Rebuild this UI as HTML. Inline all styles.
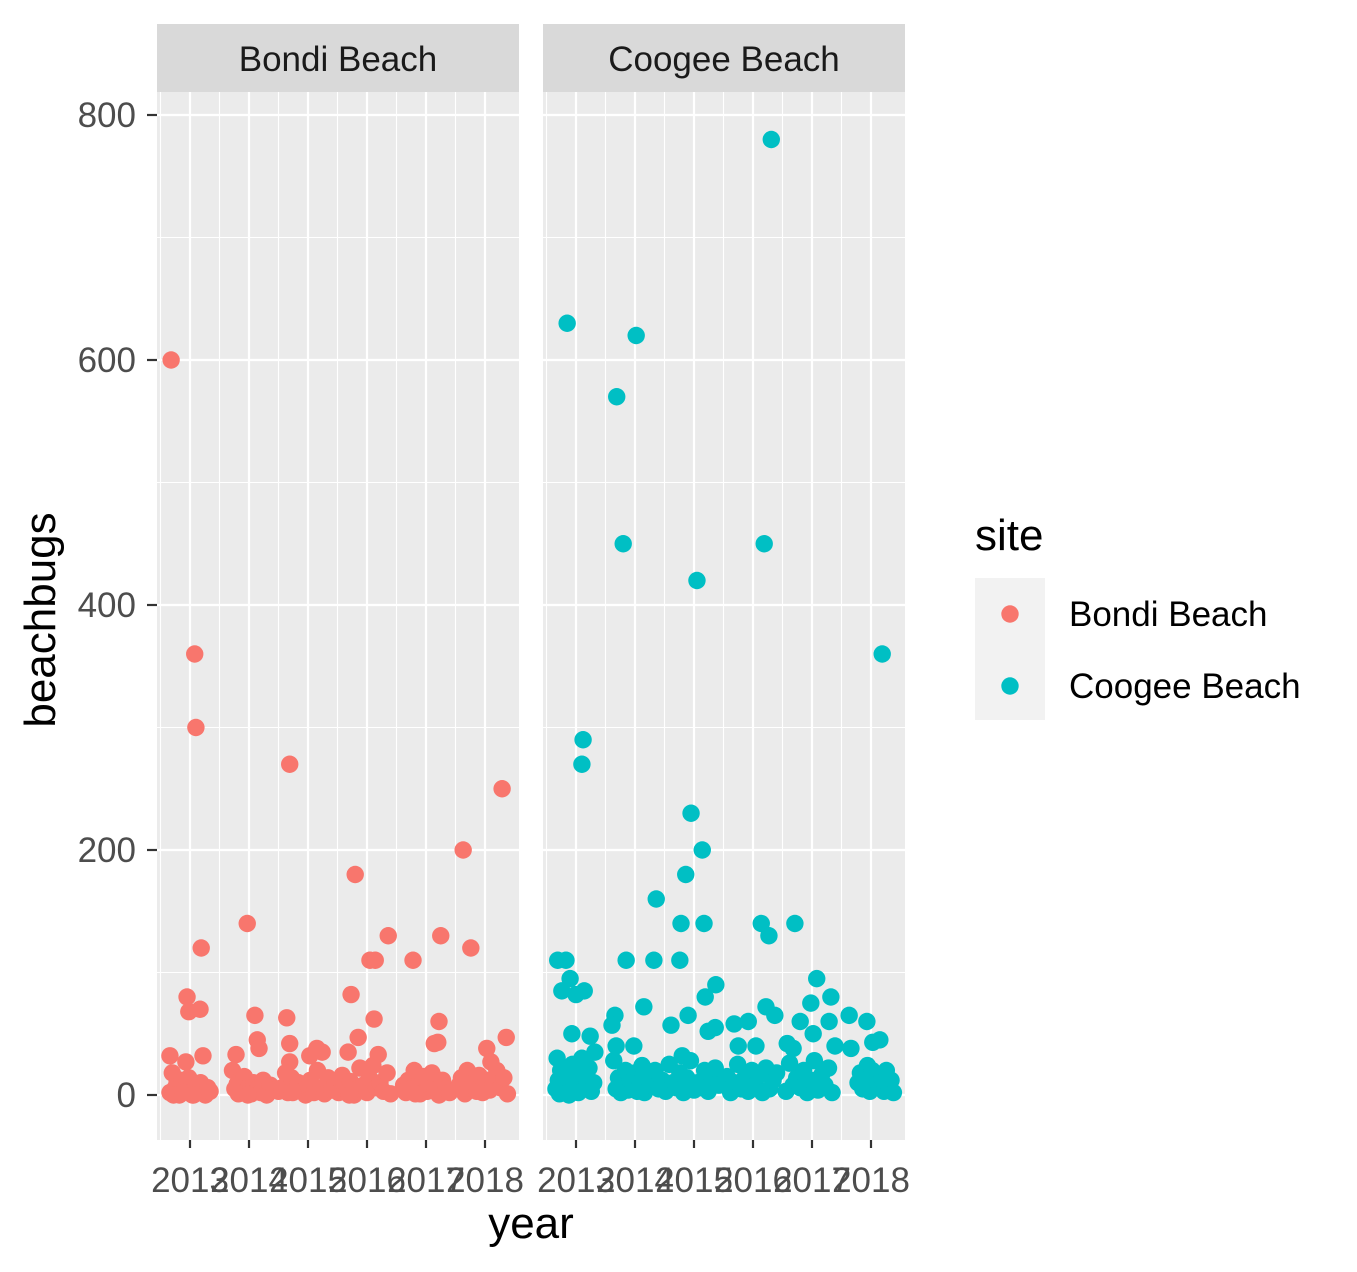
<!DOCTYPE html>
<html><head><meta charset="utf-8">
<style>
html,body{margin:0;padding:0;background:#fff;}
svg{display:block;font-family:"Liberation Sans",Arial,sans-serif;}
</style></head>
<body>
<svg id="chart" width="1357" height="1272" viewBox="0 0 1357 1272" xmlns="http://www.w3.org/2000/svg">
<rect width="1357" height="1272" fill="#fff"/>
</svg>
<script>
const yTicks = [0, 200, 400, 600, 800];
const yMinor = [100, 300, 500, 700];
const xTicks = [2013, 2014, 2015, 2016, 2017, 2018];
const xTickLabels = ["2013", "2014", "2015", "2016", "2017", "2018"];
const panels = ["Bondi Beach", "Coogee Beach"];
const colors = ["#F8766D", "#00BFC4"];

const bondiYear = [
2012.68,2013.08,2013.10,2013.19,2012.95,2012.98,2013.17,2013.22,2012.66,2013.97,
2014.10,2014.14,2014.17,2013.78,2014.69,2014.64,2014.69,2014.69,2015.15,2015.24,
2015.03,2015.80,2015.73,2015.85,2015.68,2016.05,2016.14,2016.12,2016.19,2016.36,
2016.78,2017.25,2017.22,2017.14,2017.20,2017.63,2017.76,2018.29,2018.36,2018.03,
2018.10,2012.93,
2012.66,2012.70,2012.74,2012.78,2012.82,2012.86,2012.90,2012.94,2012.98,2013.02,
2013.06,2013.10,2013.14,2013.18,2013.22,2013.26,2013.30,2013.34,2013.72,2013.76,
2013.80,2013.84,2013.88,2013.92,2013.96,2014.00,2014.04,2014.08,2014.12,2014.16,
2014.20,2014.24,2014.30,2014.36,2014.42,2014.50,2014.56,2014.62,2014.66,2014.72,
2014.78,2014.84,2014.90,2014.96,2015.00,2015.04,2015.10,2015.16,2015.22,2015.28,
2015.34,2015.40,2015.46,2015.52,2015.58,2015.62,2015.66,2015.72,2015.78,2015.84,
2015.88,2015.94,2016.00,2016.04,2016.10,2016.16,2016.22,2016.28,2016.34,2016.40,
2016.62,2016.66,2016.70,2016.74,2016.80,2016.86,2016.90,2016.96,2017.02,2017.06,
2017.10,2017.16,2017.22,2017.28,2017.34,2017.40,2017.56,2017.60,2017.66,2017.70,
2017.74,2017.80,2017.86,2017.90,2017.96,2018.02,2018.08,2018.14,2018.20,2018.26,
2018.32,2018.38,2012.72,2012.88,2013.04,2013.82,2013.98,2014.74,2015.70,2016.82];
const bondiVal = [
600,360,300,120,80,68,70,32,32,140,
65,45,38,33,270,63,42,27,38,35,
32,180,82,47,35,110,110,62,33,130,
110,130,60,42,43,200,120,250,47,38,
27,27,
2,18,5,10,0,12,3,8,14,2,
0,6,3,10,2,0,6,3,20,5,
9,12,2,15,4,7,1,10,3,6,
2,12,0,8,4,3,6,18,2,14,
5,10,3,0,8,12,2,20,6,1,
14,4,9,2,16,7,3,11,0,5,
22,8,2,14,24,6,10,3,18,1,
8,2,12,5,20,7,1,15,3,9,
18,4,0,12,5,2,8,14,1,20,
6,10,3,16,2,12,4,8,20,6,
14,1,0,2,0,1,0,2,0,1];

const coogeeYear = [
2016.31,2012.85,2014.02,2013.69,2013.80,2016.19,2015.05,2018.19,2013.12,2013.10,
2014.95,2015.14,2014.86,2014.36,2016.14,2014.78,2015.17,2016.71,2016.27,2012.69,
2012.83,2013.85,2014.32,2014.76,2017.08,2012.90,2012.76,2013.14,2013.00,2015.37,
2017.32,2016.98,2015.19,2014.15,2016.22,2016.37,2014.90,2013.66,2017.63,2017.93,
2015.92,2015.68,2014.61,2013.61,2015.24,2015.36,2012.93,2013.24,2017.02,2012.68,
2016.80,2017.29,2018.15,2018.03,2015.75,2016.05,2013.98,2013.68,2013.32,2014.80,
2016.58,2017.39,2017.66,2016.68,
2012.66,2012.70,2012.74,2012.78,2012.82,2012.86,2012.90,2012.94,2012.98,2013.02,
2013.06,2013.10,2013.14,2013.18,2013.22,2013.26,2013.30,2013.64,2013.68,2013.72,
2013.76,2013.80,2013.84,2013.88,2013.92,2013.96,2014.00,2014.04,2014.08,2014.12,
2014.16,2014.22,2014.28,2014.34,2014.40,2014.46,2014.52,2014.58,2014.64,2014.70,
2014.76,2014.82,2014.88,2014.94,2015.00,2015.06,2015.12,2015.18,2015.24,2015.30,
2015.36,2015.42,2015.56,2015.62,2015.68,2015.74,2015.80,2015.86,2015.92,2015.98,
2016.04,2016.10,2016.16,2016.22,2016.28,2016.34,2016.40,2016.56,2016.62,2016.68,
2016.74,2016.80,2016.86,2016.92,2016.98,2017.04,2017.10,2017.16,2017.22,2017.28,
2017.34,2017.78,2017.82,2017.86,2017.90,2017.94,2017.98,2018.02,2018.06,2018.10,
2018.14,2018.18,2018.22,2018.26,2018.30,2018.34,2018.38,2012.72,2012.88,2013.04];
const coogeeVal = [
780,630,620,570,450,450,420,360,290,270,
230,200,180,160,140,140,140,140,130,110,
110,110,110,110,95,95,85,85,82,90,
80,75,80,72,72,65,65,65,65,60,
60,58,57,57,52,55,50,48,50,30,
60,60,45,43,40,40,40,40,35,32,
42,40,38,38,
5,12,20,3,8,15,2,25,10,4,
18,30,6,12,22,3,10,28,5,14,
2,8,20,4,12,6,18,3,10,24,
2,15,8,20,5,12,3,25,10,6,
18,2,14,28,4,10,6,20,3,12,
22,8,15,2,10,25,5,14,3,20,
8,16,2,22,5,12,18,3,26,8,
14,6,20,2,12,28,4,16,8,22,
2,10,18,5,14,24,3,20,8,12,
6,14,3,20,6,12,2,1,0,2];

const panelX = [[157,519],[543,905]];
const plotTop = 92, plotBottom = 1140;
const NS = "http://www.w3.org/2000/svg";
const svg = document.getElementById("chart");
function yScale(v){ return 1095 - v * (980/800); }
function xScale(yr, p){ return panelX[p][0] + 33 + (yr - 2013) * 59; }
function el(tag, attrs, parent){ const e=document.createElementNS(NS,tag); for(const k in attrs) e.setAttribute(k,attrs[k]); (parent||svg).appendChild(e); return e; }

panels.forEach((name, p) => {
  const g = el("g", {});
  
  
  const [x0,x1] = panelX[p];
  el("rect",{x:x0,y:plotTop,width:x1-x0,height:plotBottom-plotTop,fill:"#EBEBEB"},g);
  yMinor.forEach(v=>el("line",{x1:x0,x2:x1,y1:yScale(v),y2:yScale(v),stroke:"#fff","stroke-width":1.1},g));
  xTicks.slice(0,-1).forEach(t=>{const x=xScale(t+0.5,p); el("line",{x1:x,x2:x,y1:plotTop,y2:plotBottom,stroke:"#fff","stroke-width":1.1},g);});
  const xm = xScale(2012.5,p); el("line",{x1:xm,x2:xm,y1:plotTop,y2:plotBottom,stroke:"#fff","stroke-width":1.1},g);
  yTicks.forEach(v=>el("line",{x1:x0,x2:x1,y1:yScale(v),y2:yScale(v),stroke:"#fff","stroke-width":2.2},g));
  xTicks.forEach(t=>{const x=xScale(t,p); el("line",{x1:x,x2:x,y1:plotTop,y2:plotBottom,stroke:"#fff","stroke-width":2.2},g);});
  const s = el("rect",{x:x0,y:24,width:x1-x0,height:68,fill:"#D9D9D9"},g);
  
  
  const st = el("text",{x:(x0+x1)/2,y:71,"text-anchor":"middle","font-size":"35","fill":"#1A1A1A"},g);
  st.textContent = name;
  
  
  xTicks.forEach((t,i)=>{
    const x=xScale(t,p);
    el("line",{x1:x,x2:x,y1:1140,y2:1148,stroke:"#333","stroke-width":2.2},g);
    const tl = el("text",{x:x,y:1192,"text-anchor":"middle","font-size":"35","fill":"#4D4D4D"},g);
    tl.textContent = xTickLabels[i];
    
    
  });
  const ys = p===0?bondiYear:coogeeYear, vs = p===0?bondiVal:coogeeVal;
  ys.forEach((yr,i)=>{
    if (vs[i] === undefined) return;
    const c = el("circle",{cx:xScale(yr,p),cy:yScale(vs[i]),r:8.7,fill:colors[p]},g);
    
    
  });
});
yTicks.forEach(v=>{
  el("line",{x1:147,x2:157,y1:yScale(v),y2:yScale(v),stroke:"#333","stroke-width":2.2});
  const t = el("text",{x:136,y:yScale(v)+12,"text-anchor":"end","font-size":"35","fill":"#4D4D4D"});
  t.textContent = v;
  
  
});
const yt = el("text",{x:0,y:0,transform:"translate(55,620) rotate(-90)","text-anchor":"middle","font-size":"44","fill":"#000"});
yt.textContent="beachbugs";


const xt = el("text",{x:531,y:1238,"text-anchor":"middle","font-size":"44","fill":"#000"});
xt.textContent="year";


const lg = el("g",{});


const lt = el("text",{x:975,y:550,"font-size":"44","fill":"#000"},lg);
lt.textContent="site";


el("rect",{x:975,y:578,width:70,height:142,fill:"#F2F2F2"},lg);
panels.forEach((name,i)=>{
  const cy = 614 + i*72;
  const k = el("circle",{cx:1010,cy:cy,r:8.7,fill:colors[i]},lg);
  
  
  const t = el("text",{x:1069,y:cy+12,"font-size":"35","fill":"#000"},lg);
  t.textContent = name;
  
  
});
</script>
</body></html>
